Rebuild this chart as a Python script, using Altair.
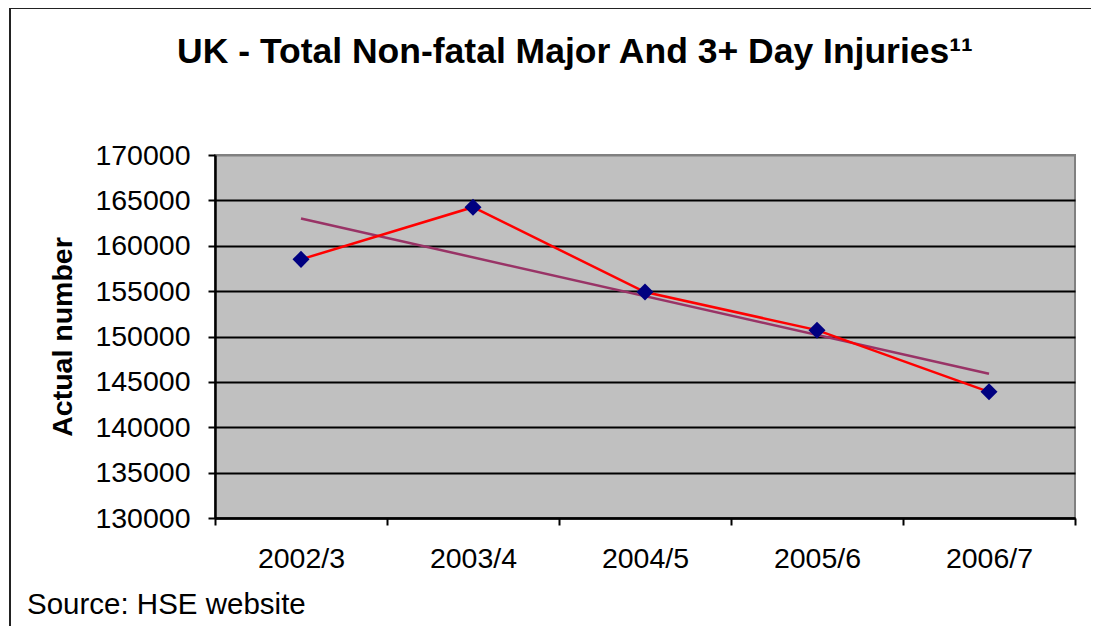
import altair as alt
import pandas as pd

# ---- data ----
categories = ["2002/3", "2003/4", "2004/5", "2005/6", "2006/7"]
injuries = [158500, 164250, 154900, 150700, 143900]
y_ticks = [130000, 135000, 140000, 145000, 150000, 155000, 160000, 165000, 170000]

TITLE = "UK - Total Non-fatal Major And 3+ Day Injuries\u00b9\u00b9"
Y_TITLE = "Actual number"
SOURCE = "Source: HSE website"

FONT = "Liberation Sans"
W, H = 860, 363
n = len(categories)
half_band = W / n / 2

df = pd.DataFrame({"idx": list(range(n)), "category": categories, "value": injuries})

cats_js = "[" + ",".join(f"'{c}'" for c in categories) + "]"
x_bounds = [i - 0.5 for i in range(n + 1)]

x_enc = alt.X(
    "idx:Q",
    scale=alt.Scale(domain=[-0.5, n - 0.5], nice=False, zero=False),
    axis=alt.Axis(
        values=x_bounds,
        labelExpr=f"datum.value < {n - 1} ? {cats_js}[round(datum.value + 0.5)] : ''",
        labelOffset=half_band,
        labelFlush=False,
        labelOverlap=False,
        labelBound=False,
        grid=False,
        tickSize=7,
        tickColor="black",
        tickWidth=2,
        domainColor="black",
        domainWidth=2.5,
        labelFont=FONT,
        labelFontSize=28.5,
        labelColor="black",
        labelPadding=19,
        title=None,
    ),
)

y_enc = alt.Y(
    "value:Q",
    scale=alt.Scale(domain=[min(y_ticks), max(y_ticks)], nice=False, zero=False),
    axis=alt.Axis(
        values=y_ticks,
        format="d",
        grid=True,
        gridColor={"condition": {"test": f"datum.value >= {max(y_ticks)}", "value": "#808080"}, "value": "black"},
        gridWidth=2,
        tickSize=7,
        tickColor="black",
        tickWidth=2,
        domainColor="black",
        domainWidth=2.5,
        labelFont=FONT,
        labelFontSize=28.5,
        labelColor="black",
        labelPadding=18,
        title=Y_TITLE,
        titleFont=FONT,
        titleFontSize=28.5,
        titleFontWeight="bold",
        titleColor="black",
        titleX=-138,
        titleY=H / 2,
    ),
)

base = alt.Chart(df).encode(x=x_enc, y=y_enc)

trend = base.transform_regression("idx", "value").mark_line(color="#993366", strokeWidth=2.5)
line = base.mark_line(color="#FF0000", strokeWidth=2.5)
pts = base.mark_point(shape="diamond", filled=True, color="#000080", size=290, opacity=1)

one = pd.DataFrame({"t": [SOURCE]})
src = alt.Chart(one).mark_text(
    align="left", baseline="alphabetic", font=FONT, fontSize=29.5, color="black"
).encode(x=alt.value(-188), y=alt.value(459), text="t:N")

border_left = alt.Chart(one).mark_rule(color="#222222", strokeWidth=2).encode(
    x=alt.value(-205), y=alt.value(-147), y2=alt.value(700)
)
border_top = alt.Chart(one).mark_rule(color="#222222", strokeWidth=2).encode(
    x=alt.value(-205), x2=alt.value(1000), y=alt.value(-147)
)

chart = (
    alt.layer(trend, line, pts, src, border_left, border_top)
    .properties(
        width=W,
        height=H,
        background="white",
        title=alt.Title(
            TITLE,
            font=FONT,
            fontSize=35.5,
            fontWeight="bold",
            color="black",
            anchor="middle",
            dx=-70,
            dy=63,
            offset=0,
        ),
        autosize=alt.AutoSizeParams(type="none"),
        padding={"left": 207, "top": 147, "right": 16, "bottom": 108},
    )
    .configure_view(fill="#C0C0C0", stroke="#808080", strokeWidth=2)
)

chart.save("out.html", embed_options={"renderer": "svg", "actions": False})
